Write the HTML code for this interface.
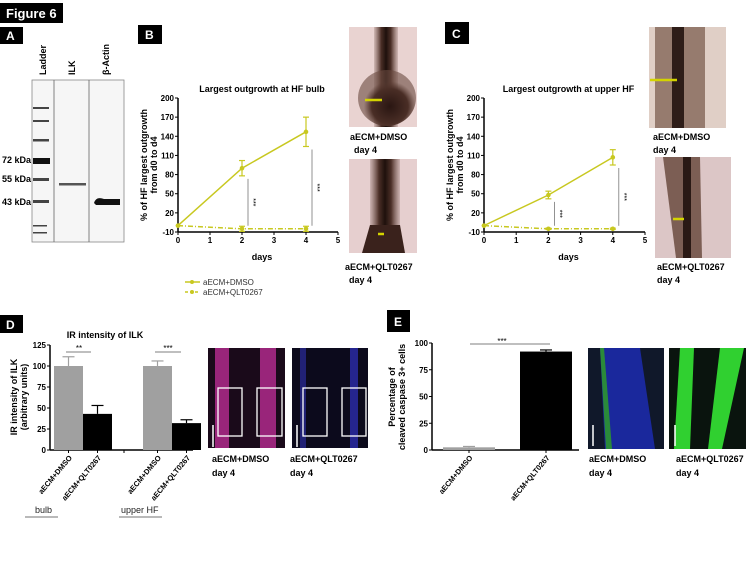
<!DOCTYPE html>
<html><head><meta charset="utf-8">
<style>
body{margin:0;background:#fff;}
svg{display:block;font-family:"Liberation Sans",sans-serif;}
.t{font-size:9px;fill:#000;}
.b{font-weight:bold;}
</style></head>
<body>
<svg id="fig" width="751" height="562" viewBox="0 0 751 562">
<defs>
<radialGradient id="bulbG" cx="0.55" cy="0.65" r="0.45"><stop offset="0" stop-color="#2a1612"/><stop offset="0.7" stop-color="#4a2e26"/><stop offset="1" stop-color="#6a4a40" stop-opacity="0.6"/></radialGradient>
<linearGradient id="shaftG" x1="0" x2="1"><stop offset="0" stop-color="#6a4a40" stop-opacity="0.2"/><stop offset="0.3" stop-color="#4a2e26"/><stop offset="0.5" stop-color="#1e100c"/><stop offset="0.7" stop-color="#4a2e26"/><stop offset="1" stop-color="#6a4a40" stop-opacity="0.2"/></linearGradient>
</defs>
<!-- panel labels -->
<g><rect x="0" y="3" width="63" height="20" fill="#000"/><text x="6" y="18" fill="#fff" font-size="13" font-weight="bold">Figure 6</text></g>
<g><rect x="0" y="27" width="23" height="17" fill="#000"/><text x="6" y="40" fill="#fff" font-size="12" font-weight="bold">A</text></g>
<g><rect x="138" y="25" width="24" height="19" fill="#000"/><text x="145" y="39" fill="#fff" font-size="12" font-weight="bold">B</text></g>
<g><rect x="445" y="22" width="24" height="22" fill="#000"/><text x="452" y="38" fill="#fff" font-size="12" font-weight="bold">C</text></g>
<g><rect x="0" y="315" width="23" height="18" fill="#000"/><text x="6" y="329" fill="#fff" font-size="12" font-weight="bold">D</text></g>
<g><rect x="387" y="310" width="23" height="22" fill="#000"/><text x="394" y="326" fill="#fff" font-size="12" font-weight="bold">E</text></g>

<!-- western blot -->
<g>
<rect x="32" y="80" width="92" height="162" fill="#f6f6f6" stroke="#888" stroke-width="0.8"/>
<line x1="54" y1="80" x2="54" y2="242" stroke="#666" stroke-width="0.8"/>
<line x1="89" y1="80" x2="89" y2="242" stroke="#666" stroke-width="0.8"/>
<g fill="#444">
<rect x="33" y="107" width="16" height="2"/><rect x="33" y="120" width="16" height="2"/><rect x="33" y="139" width="16" height="2.5"/>
<rect x="33" y="158" width="17" height="6" fill="#111"/><rect x="33" y="178" width="16" height="3"/><rect x="33" y="200" width="16" height="3"/>
<rect x="33" y="225" width="14" height="1.5"/><rect x="33" y="232" width="14" height="1.5"/>
<rect x="59" y="183" width="27" height="2.5" fill="#555"/>
<path d="M94 203 Q96 196 104 199 L120 199 L120 205 L96 205 Z" fill="#111"/>
</g>
<text class="t b" transform="translate(46,75) rotate(-90)">Ladder</text>
<text class="t b" transform="translate(75,75) rotate(-90)">ILK</text>
<text class="t b" transform="translate(109,75) rotate(-90)">β-Actin</text>
<text class="t b" x="2" y="163">72 kDa</text>
<text class="t b" x="2" y="182">55 kDa</text>
<text class="t b" x="2" y="205">43 kDa</text>
</g>

<!-- photos B -->
<g>
<rect x="349" y="27" width="68" height="100" fill="#e9d3d1"/>
<rect x="374" y="27" width="24" height="100" fill="url(#shaftG)"/>
<ellipse cx="387" cy="98" rx="29" ry="28" fill="url(#bulbG)"/>
<line x1="365" y1="100" x2="382" y2="100" stroke="#d4d400" stroke-width="2.5"/>
</g>
<text class="t b" x="350" y="140" font-size="10">aECM+DMSO</text><text class="t b" x="354" y="153" font-size="10">day 4</text>
<g>
<rect x="349" y="159" width="68" height="94" fill="#e6cfcf"/>
<rect x="370" y="159" width="30" height="94" fill="url(#shaftG)"/>
<path d="M370 225 L400 225 L405 253 L362 253 Z" fill="#3a221c"/>
<line x1="378" y1="234" x2="384" y2="234" stroke="#d4d400" stroke-width="2.5"/>
</g>
<text class="t b" x="345" y="270" font-size="10">aECM+QLT0267</text><text class="t b" x="349" y="283" font-size="10">day 4</text>

<!-- photos C -->
<g>
<rect x="649" y="27" width="77" height="101" fill="#e0cfc6"/>
<rect x="655" y="27" width="50" height="101" fill="#7d5f50" opacity="0.75"/>
<rect x="672" y="27" width="12" height="101" fill="#2e1d18"/>
<line x1="650" y1="80" x2="677" y2="80" stroke="#d4d400" stroke-width="2.5"/>
</g>
<text class="t b" x="653" y="140" font-size="10">aECM+DMSO</text><text class="t b" x="653" y="153" font-size="10">day 4</text>
<g>
<rect x="655" y="157" width="76" height="101" fill="#dcc6c6"/>
<path d="M663 157 L700 157 L702 258 L676 258 Z" fill="#6b4b40" opacity="0.85"/>
<rect x="683" y="157" width="8" height="101" fill="#2a1915"/>
<line x1="673" y1="219" x2="684" y2="219" stroke="#d4d400" stroke-width="2.5"/>
</g>
<text class="t b" x="657" y="270" font-size="10">aECM+QLT0267</text><text class="t b" x="657" y="283" font-size="10">day 4</text>

<!-- fluorescence D -->
<g>
<rect x="208" y="348" width="77" height="100" fill="#1a0a1a"/>
<rect x="215" y="348" width="14" height="100" fill="#b02a8c" opacity="0.85"/>
<rect x="260" y="348" width="16" height="100" fill="#b02a8c" opacity="0.85"/>
<rect x="218" y="388" width="24" height="48" fill="none" stroke="#fff" stroke-width="1.3"/>
<rect x="257" y="388" width="25" height="48" fill="none" stroke="#fff" stroke-width="1.3"/>
<line x1="213" y1="425" x2="213" y2="447" stroke="#fff" stroke-width="1.5"/>
</g>
<text class="t b" x="212" y="462" font-size="10">aECM+DMSO</text><text class="t b" x="212" y="476" font-size="10">day 4</text>
<g>
<rect x="292" y="348" width="76" height="100" fill="#0c0a1c"/>
<rect x="300" y="348" width="6" height="100" fill="#3030b0" opacity="0.6"/>
<rect x="350" y="348" width="8" height="100" fill="#3030c0" opacity="0.7"/>
<rect x="303" y="388" width="24" height="48" fill="none" stroke="#fff" stroke-width="1.3"/>
<rect x="342" y="388" width="24" height="48" fill="none" stroke="#fff" stroke-width="1.3"/>
<line x1="297" y1="425" x2="297" y2="447" stroke="#fff" stroke-width="1.5"/>
</g>
<text class="t b" x="290" y="462" font-size="10">aECM+QLT0267</text><text class="t b" x="290" y="476" font-size="10">day 4</text>

<!-- fluorescence E -->
<g>
<rect x="588" y="348" width="76" height="101" fill="#10182a"/>
<path d="M600 348 L640 348 L655 449 L605 449 Z" fill="#1c2cb0" opacity="0.85"/>
<path d="M600 348 L604 348 L612 449 L606 449 Z" fill="#2a8a3a"/>
<line x1="593" y1="425" x2="593" y2="446" stroke="#fff" stroke-width="1.5"/>
</g>
<text class="t b" x="589" y="462" font-size="10">aECM+DMSO</text><text class="t b" x="589" y="476" font-size="10">day 4</text>
<g>
<rect x="669" y="348" width="77" height="101" fill="#0a140e"/>
<path d="M680 348 L694 348 L690 449 L674 449 Z" fill="#30d030"/>
<path d="M720 348 L744 348 L722 449 L708 449 Z" fill="#30d030"/>
<line x1="675" y1="425" x2="675" y2="446" stroke="#fff" stroke-width="1.5"/>
</g>
<text class="t b" x="676" y="462" font-size="10">aECM+QLT0267</text><text class="t b" x="676" y="476" font-size="10">day 4</text>

<g id="charts"></g>
</svg>
<script>
// ---- Panel B data
const daysB = [0, 2, 4];
const bDmso = [0, 90, 147];
const bDmsoErr = [0, 12, 23];
const bQlt = [0, -5, -5];
const bQltErr = [0, 4, 4];
// ---- Panel C data
const cDmso = [0, 48, 107];
const cDmsoErr = [0, 6, 12];
const cQlt = [0, -5, -5];
const cQltErr = [0, 1, 1];
const lineYTicks = [-10, 20, 50, 80, 110, 140, 170, 200];
const lineXTicks = [0, 1, 2, 3, 4, 5];
// ---- Panel D data
const dCats = ["aECM+DMSO", "aECM+QLT0267", "aECM+DMSO", "aECM+QLT0267"];
const dVals = [100, 43, 100, 32];
const dErrs = [11, 10, 6, 4];
const dYTicks = [0, 25, 50, 75, 100, 125];
// ---- Panel E data
const eCats = ["aECM+DMSO", "aECM+QLT0267"];
const eVals = [2.5, 92];
const eErrs = [0.8, 1.5];
const eYTicks = [0, 25, 50, 75, 100];

const NS = "http://www.w3.org/2000/svg";
const root = document.getElementById("charts");
function mk(tag, attrs, parent, txt) {
  const e = document.createElementNS(NS, tag);
  for (const k in attrs) e.setAttribute(k, attrs[k]);
  if (txt !== undefined) e.textContent = txt;
  (parent || root).appendChild(e);
  return e;
}
const YEL = "#c8c820";

function lineChart(name, x0, x1, yTop, yBot, title, dm, dmE, ql, qlE, sigX) {
  const g = mk("g", {});
  
  
  const xs = v => x0 + (v - 0) / 5 * (x1 - x0);
  const ys = v => yBot - (v + 10) / 210 * (yBot - yTop);
  mk("line", {x1: x0, y1: yTop, x2: x0, y2: yBot, stroke: "#000", "stroke-width": 1.5}, g);
  mk("line", {x1: x0, y1: yBot, x2: x1, y2: yBot, stroke: "#000", "stroke-width": 1.5}, g);
  lineYTicks.forEach(t => {
    mk("line", {x1: x0 - 3, y1: ys(t), x2: x0, y2: ys(t), stroke: "#000"}, g);
    mk("text", {x: x0 - 4, y: ys(t) + 3, "text-anchor": "end", "font-size": 8, "font-weight": "bold"}, g, t);
  });
  lineXTicks.forEach(t => {
    mk("line", {x1: xs(t), y1: yBot, x2: xs(t), y2: yBot + 3, stroke: "#000"}, g);
    mk("text", {x: xs(t), y: yBot + 11, "text-anchor": "middle", "font-size": 8, "font-weight": "bold"}, g, t);
  });
  mk("text", {x: (x0 + x1) / 2 + 4, y: 92, "text-anchor": "middle", "font-size": 9, "font-weight": "bold"}, g, title);
  mk("text", {x: (x0 + x1) / 2 + 4, y: yBot + 28, "text-anchor": "middle", "font-size": 9, "font-weight": "bold"}, g, "days");
  const cy = (yTop + yBot) / 2;
  mk("text", {transform: `translate(${x0 - 31},${cy}) rotate(-90)`, "text-anchor": "middle", "font-size": 9, "font-weight": "bold"}, g, "% of HF largest outgrowth");
  mk("text", {transform: `translate(${x0 - 21},${cy}) rotate(-90)`, "text-anchor": "middle", "font-size": 9, "font-weight": "bold"}, g, "from d0 to d4");
  function series(vals, errs, dash, sname) {
    const s = mk("g", {}, g);
    
    
    mk("polyline", {points: daysB.map((d, i) => xs(d) + "," + ys(vals[i])).join(" "), fill: "none", stroke: YEL, "stroke-width": 1.5, "stroke-dasharray": dash}, s);
    daysB.forEach((d, i) => {
      const x = xs(d);
      if (errs[i] > 0) {
        mk("line", {x1: x, y1: ys(vals[i] - errs[i]), x2: x, y2: ys(vals[i] + errs[i]), stroke: YEL, "stroke-width": 1.2}, s);
        [vals[i] - errs[i], vals[i] + errs[i]].forEach(v => mk("line", {x1: x - 3, y1: ys(v), x2: x + 3, y2: ys(v), stroke: YEL, "stroke-width": 1.2}, s));
      }
      mk("circle", {cx: x, cy: ys(vals[i]), r: 2.3, fill: YEL}, s);
    });
  }
  series(dm, dmE, "none", name + "-dmso-series");
  series(ql, qlE, "5,2,1,2", name + "-qlt-series");
  [1, 2].forEach((i, k) => {
    const x = xs(daysB[i]) + (k === 0 ? 6 : 6);
    mk("line", {x1: x, y1: ys(dm[i] - dmE[i]) + 3, x2: x, y2: ys(ql[i]) - 3, stroke: "#777", "stroke-width": 0.8}, g);
    mk("text", {transform: `translate(${x + 3},${(ys(dm[i] - dmE[i]) + ys(ql[i])) / 2}) rotate(90)`, "text-anchor": "middle", "font-size": 7}, g, "***");
  });
}
lineChart("chart-b-bulb-outgrowth", 178, 338, 98, 232, "Largest outgrowth at HF bulb", bDmso, bDmsoErr, bQlt, bQltErr);
lineChart("chart-c-upper-hf-outgrowth", 484, 645, 98, 232, "Largest outgrowth at upper HF", cDmso, cDmsoErr, cQlt, cQltErr);

// legend B
const lg = mk("g", {});


mk("line", {x1: 185, y1: 282, x2: 200, y2: 282, stroke: YEL, "stroke-width": 1.5}, lg);
mk("circle", {cx: 192, cy: 282, r: 2, fill: YEL}, lg);
mk("text", {x: 203, y: 285, "font-size": 8, fill: "#333"}, lg, "aECM+DMSO");
mk("line", {x1: 185, y1: 292, x2: 200, y2: 292, stroke: YEL, "stroke-width": 1.5, "stroke-dasharray": "3,2"}, lg);
mk("circle", {cx: 192, cy: 292, r: 2, fill: YEL}, lg);
mk("text", {x: 203, y: 295, "font-size": 8, fill: "#333"}, lg, "aECM+QLT0267");

function barChart(name, x0, x1, yTop, yBot, maxV, ticks, vals, errs, cats, lefts, width, colors) {
  const g = mk("g", {});
  
  
  const ys = v => yBot - v / maxV * (yBot - yTop);
  mk("line", {x1: x0, y1: yTop, x2: x0, y2: yBot, stroke: "#000", "stroke-width": 1.5}, g);
  mk("line", {x1: x0, y1: yBot, x2: x1, y2: yBot, stroke: "#000", "stroke-width": 1.5}, g);
  ticks.forEach(t => {
    mk("line", {x1: x0 - 3, y1: ys(t), x2: x0, y2: ys(t), stroke: "#000"}, g);
    mk("text", {x: x0 - 4, y: ys(t) + 3, "text-anchor": "end", "font-size": 8, "font-weight": "bold"}, g, t);
  });
  vals.forEach((v, i) => {
    const b = mk("g", {}, g);
    
    
    const x = lefts[i];
    mk("rect", {x: x, y: ys(v), width: width, height: yBot - ys(v), fill: colors[i]}, b);
    const cx = x + width / 2;
    mk("line", {x1: cx, y1: ys(v), x2: cx, y2: ys(v + errs[i]), stroke: colors[i], "stroke-width": 1.2}, b);
    mk("line", {x1: cx - 6, y1: ys(v + errs[i]), x2: cx + 6, y2: ys(v + errs[i]), stroke: colors[i], "stroke-width": 1.2}, b);
    mk("line", {x1: cx, y1: yBot, x2: cx, y2: yBot + 3, stroke: "#000"}, b);
    mk("text", {transform: `translate(${cx + 4},${yBot + 8}) rotate(-50)`, "text-anchor": "end", "font-size": 7.5, "font-weight": "bold"}, b, cats[i]);
  });
  return {g, ys};
}
const D = barChart("chart-d-ilk-intensity", 50, 193, 345, 450, 125, dYTicks, dVals, dErrs, dCats, [54, 83, 143, 172], 29, ["#a0a0a0", "#000", "#a0a0a0", "#000"]);
mk("line", {x1: 124, y1: 450, x2: 124, y2: 453, stroke: "#000"}, D.g);
mk("text", {x: 105, y: 338, "text-anchor": "middle", "font-size": 9, "font-weight": "bold"}, D.g, "IR intensity of ILK");
mk("text", {transform: "translate(17,397) rotate(-90)", "text-anchor": "middle", "font-size": 9, "font-weight": "bold"}, D.g, "IR intensity of ILK");
mk("text", {transform: "translate(27,397) rotate(-90)", "text-anchor": "middle", "font-size": 9, "font-weight": "bold"}, D.g, "(arbitrary units)");
mk("line", {x1: 66, y1: 352, x2: 91, y2: 352, stroke: "#555", "stroke-width": 0.8}, D.g);
mk("text", {x: 79, y: 351, "text-anchor": "middle", "font-size": 8}, D.g, "**");
mk("line", {x1: 155, y1: 352, x2: 181, y2: 352, stroke: "#555", "stroke-width": 0.8}, D.g);
mk("text", {x: 168, y: 351, "text-anchor": "middle", "font-size": 8}, D.g, "***");
mk("text", {x: 35, y: 513, "font-size": 9, fill: "#222"}, D.g, "bulb");
mk("line", {x1: 25, y1: 517, x2: 58, y2: 517, stroke: "#444", "stroke-width": 0.8}, D.g);
mk("text", {x: 121, y: 513, "font-size": 9, fill: "#222"}, D.g, "upper HF");
mk("line", {x1: 119, y1: 517, x2: 162, y2: 517, stroke: "#444", "stroke-width": 0.8}, D.g);

const E = barChart("chart-e-caspase", 432, 579, 343, 450, 100, eYTicks, eVals, eErrs, eCats, [443, 520], 52, ["#a0a0a0", "#000"]);
mk("text", {transform: "translate(395,397) rotate(-90)", "text-anchor": "middle", "font-size": 9, "font-weight": "bold"}, E.g, "Percentage of");
mk("text", {transform: "translate(405,397) rotate(-90)", "text-anchor": "middle", "font-size": 9, "font-weight": "bold"}, E.g, "cleaved caspase 3+ cells");
mk("line", {x1: 470, y1: 344, x2: 550, y2: 344, stroke: "#555", "stroke-width": 0.8}, E.g);
mk("text", {x: 502, y: 344, "text-anchor": "middle", "font-size": 8}, E.g, "***");
</script>
</body></html>
